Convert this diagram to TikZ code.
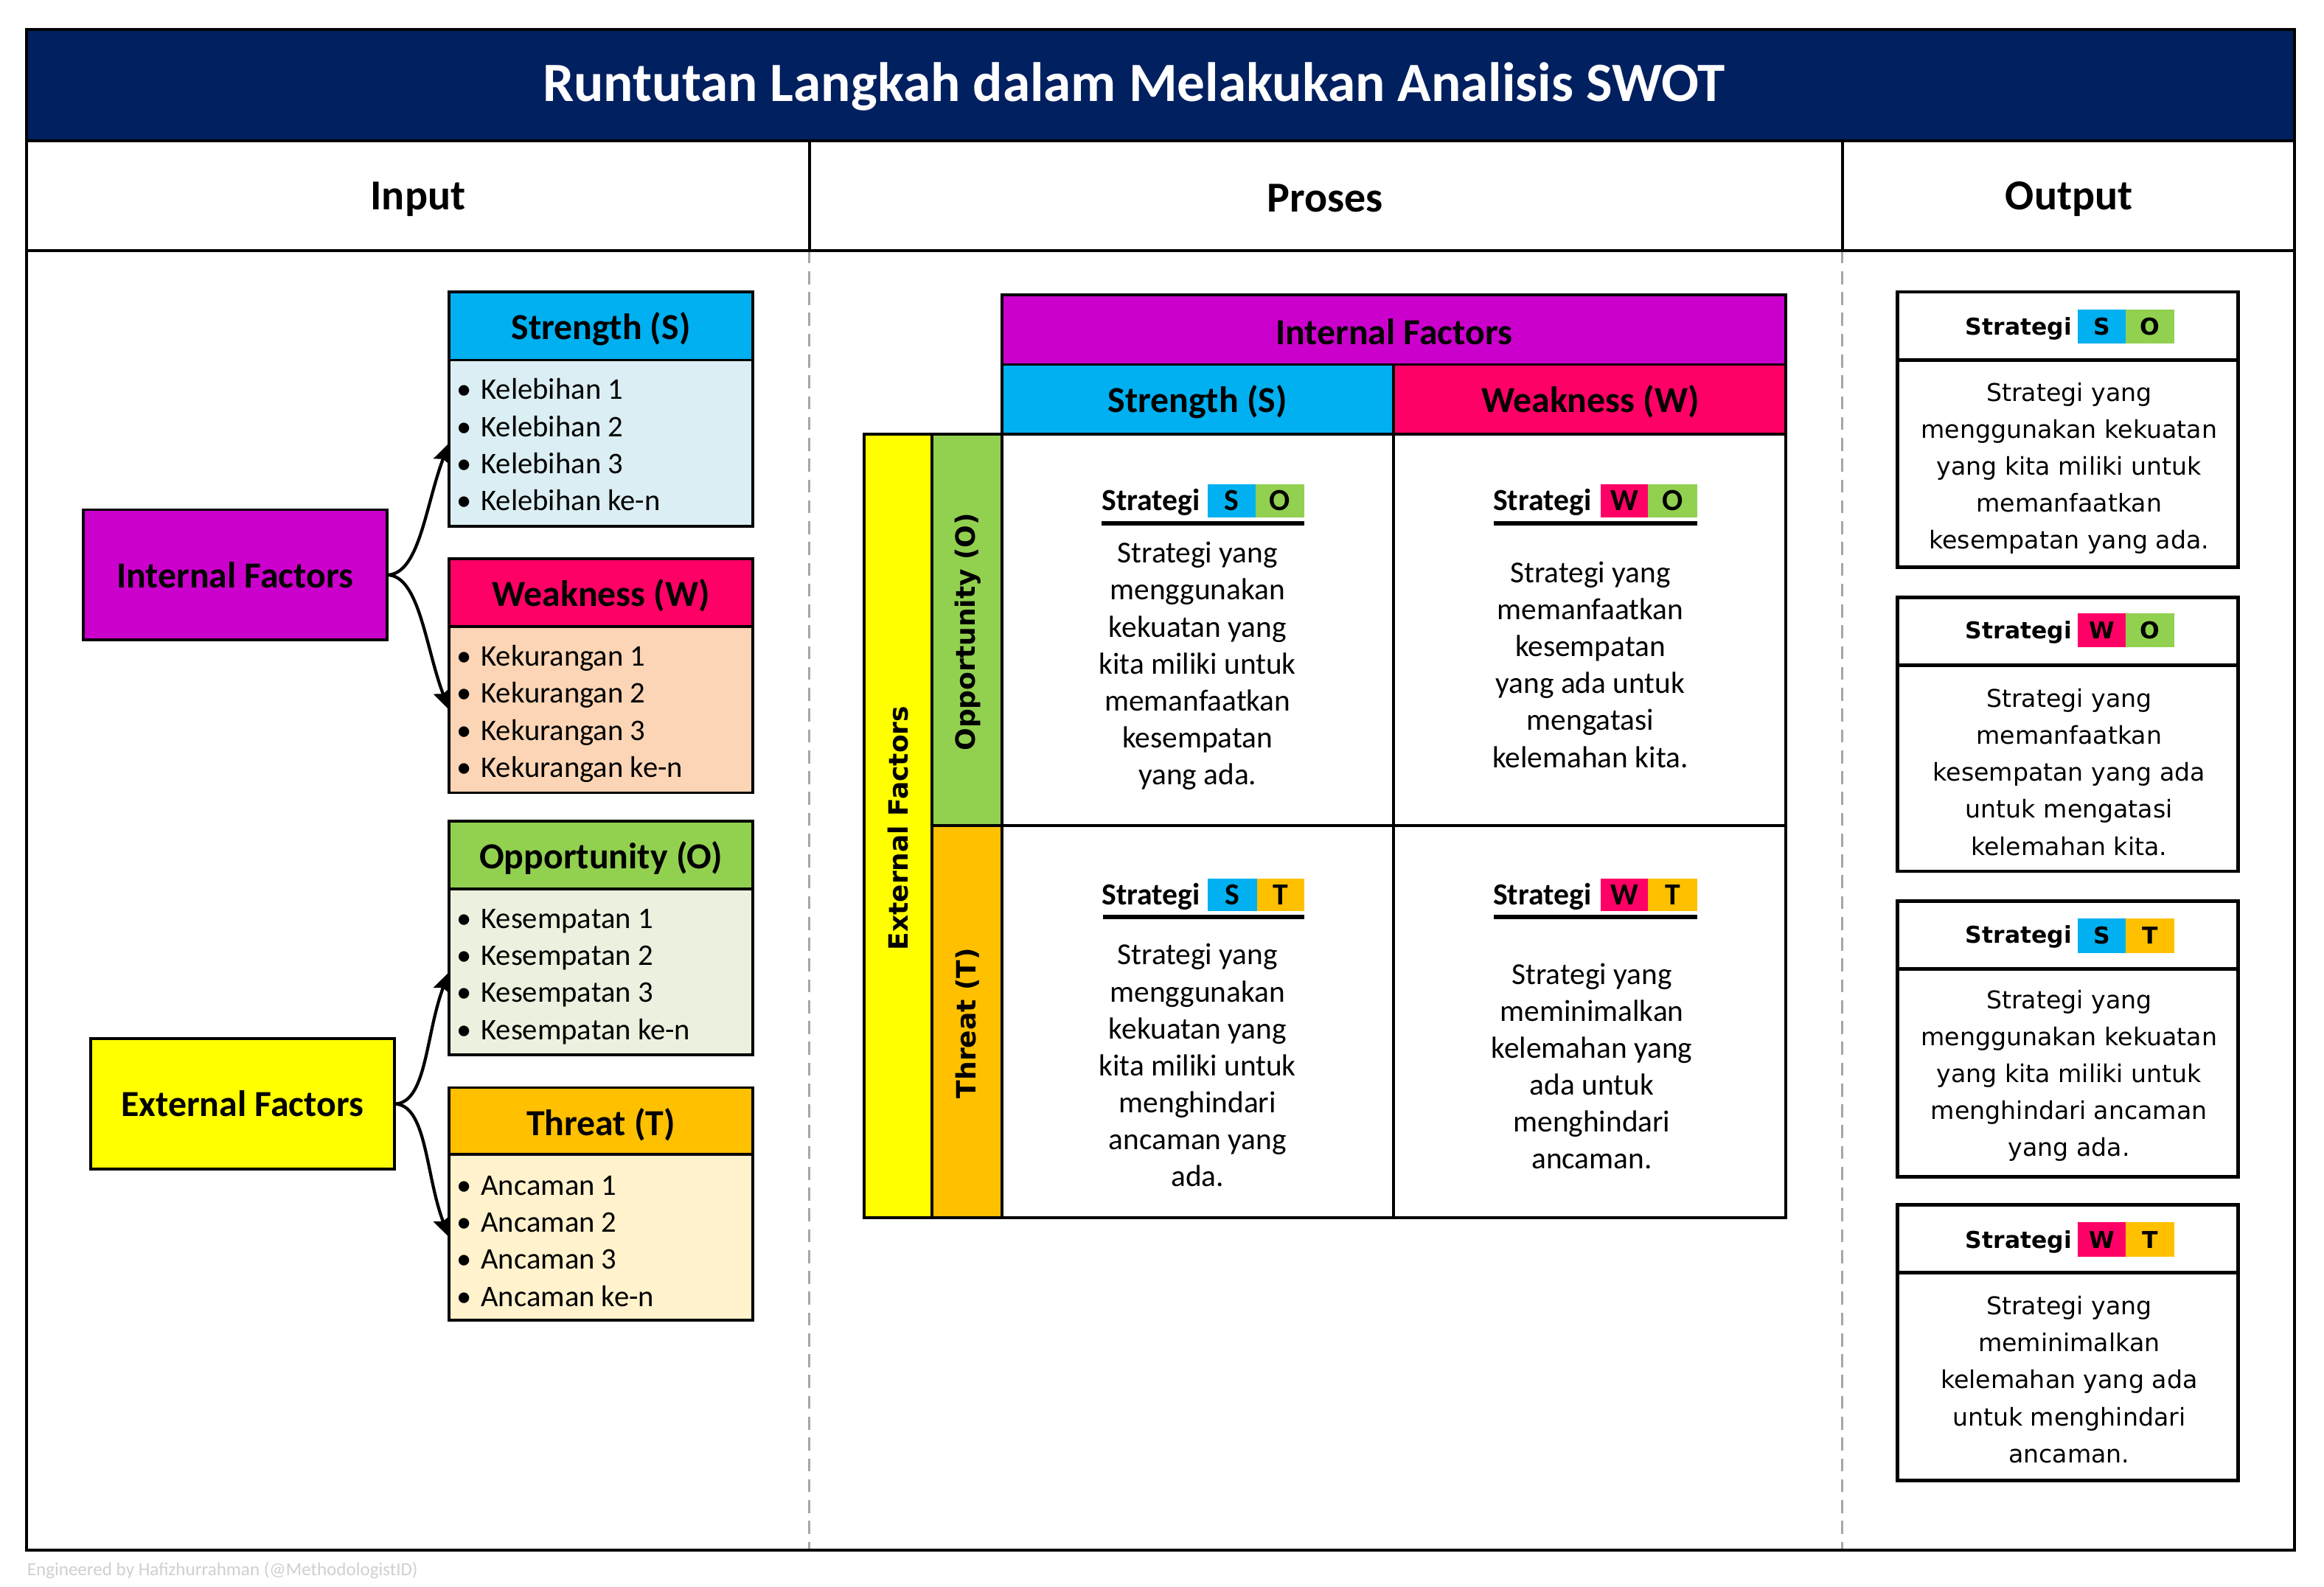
\documentclass[tikz,border=0pt]{standalone}
\usepackage{fontspec}
\setmainfont{Carlito}
\newfontfamily\verd{DejaVu Sans}
\usetikzlibrary{arrows.meta}
\definecolor{navy}{HTML}{002060}
\definecolor{magF}{HTML}{CC00CC}
\definecolor{cyanS}{HTML}{00B0F0}
\definecolor{pinkW}{HTML}{FF0066}
\definecolor{greenO}{HTML}{92D050}
\definecolor{orangeT}{HTML}{FFC000}
\definecolor{yelE}{HTML}{FFFF00}
\definecolor{lblue}{HTML}{DAEEF3}
\definecolor{peach}{HTML}{FBD5B5}
\definecolor{lgreen}{HTML}{EBF1DE}
\definecolor{lyel}{HTML}{FFF2CC}
\definecolor{dashgray}{HTML}{A6A6A6}
\definecolor{footgray}{HTML}{D0D0D0}
\newcommand\mybox[7]{\node[#6, minimum width={((#4)-(#2))*0.02cm}, minimum height={((#5)-(#3))*0.02cm}] (#1) at ({((#2)+(#4))/2},{((#3)+(#5))/2}) {#7};}
\begin{document}
\begin{tikzpicture}[x=0.02cm,y=-0.02cm,
  bx/.style={draw=black, line width=1.1pt, inner sep=0pt, outer sep=0pt},
  obx/.style={draw=black, line width=1.4pt, inner sep=0pt, outer sep=0pt},
  badge/.style={inner sep=0pt, outer sep=0pt},
  titlefont/.style={font=\fontsize{21.3}{24}\selectfont\bfseries},
  hfont/.style={font=\fontsize{16.4}{19}\selectfont\bfseries},
  tfont/.style={font=\fontsize{14.1}{17}\selectfont\bfseries},
  item/.style={anchor=base west, inner sep=0pt, font=\fontsize{11.5}{14.2}\selectfont},
  gtitle/.style={inner sep=0pt, font=\fontsize{11.8}{14.2}\selectfont\bfseries},
  gbody/.style={inner sep=0pt, align=center, font=\fontsize{11.7}{14.2}\selectfont},
  otitle/.style={inner sep=0pt, font=\verd\fontsize{8.9}{10}\selectfont\bfseries},
  obody/.style={inner sep=0pt, align=center, font=\verd\fontsize{9.4}{14.2}\selectfont},
  vlab/.style={rotate=90, inner sep=0pt, font=\verd\fontsize{10.2}{12}\selectfont\bfseries},
  arr/.style={line width=1.2pt, -{Stealth[length=0.27cm, width=0.24cm, inset=0.04cm]}},
  uline/.style={line width=1.7pt}
]
\useasboundingbox (0,0) rectangle (1568,1071);
\fill[white] (0,0) rectangle (1568,1071);

% dashed column separators
\draw[dashgray, line width=0.9pt, dash pattern=on 5pt off 3pt] (546,169) -- (546,1046);
\draw[dashgray, line width=0.9pt, dash pattern=on 5pt off 3pt] (1243,169) -- (1243,1046);

% frame, title, headers
\mybox{frame}{18}{169}{1548}{1046}{bx}{}
\mybox{title}{18}{20}{1548}{95}{bx, fill=navy}{}
\node[inner sep=0pt, text=white, titlefont] (titletext) at (765,58.5) {Runtutan Langkah dalam Melakukan Analisis SWOT};
\mybox{hin}{18}{95}{546}{169}{bx}{}
\mybox{hpr}{546}{95}{1243}{169}{bx}{}
\mybox{hout}{1243}{95}{1548}{169}{bx}{}
\node[inner sep=0pt, hfont] (hinT) at (282,134.5) {Input};
\node[inner sep=0pt, hfont] (hprT) at (894,134) {Proses};
\node[inner sep=0pt, hfont] (houtT) at (1396,134.5) {Output};

% ---------- Input column ----------
\mybox{IF}{56}{344}{261}{432}{bx, fill=magF, tfont}{Internal Factors}
\mybox{EF}{61}{701}{266}{789}{bx, fill=yelE, tfont}{External Factors}

\mybox{SH}{303}{197}{508}{243}{bx, fill=cyanS}{}
\mybox{SB}{303}{243}{508}{355}{bx, fill=lblue}{}
\mybox{WH}{303}{377}{508}{423}{bx, fill=pinkW}{}
\mybox{WB}{303}{423}{508}{535}{bx, fill=peach}{}
\mybox{OH}{303}{554}{508}{600}{bx, fill=greenO}{}
\mybox{OB}{303}{600}{508}{712}{bx, fill=lgreen}{}
\mybox{TH}{303}{734}{508}{779}{bx, fill=orangeT}{}
\mybox{TB}{303}{779}{508}{891}{bx, fill=lyel}{}
\node[inner sep=0pt, tfont] (SHt) at (405.5,222) {Strength (S)};
\node[inner sep=0pt, tfont] (WHt) at (405.5,402) {Weakness (W)};
\node[inner sep=0pt, tfont] (OHt) at (405.5,579) {Opportunity (O)};
\node[inner sep=0pt, tfont] (THt) at (405.5,759) {Threat (T)};

\foreach \t [count=\i] in {Kelebihan 1, Kelebihan 2, Kelebihan 3, Kelebihan ke-n}
  \node[item] (s\i) at (308,{263+25*(\i-1)+6.5}) {\textbullet\hspace{3.5pt}\t};
\foreach \t [count=\i] in {Kekurangan 1, Kekurangan 2, Kekurangan 3, Kekurangan ke-n}
  \node[item] (w\i) at (308,{443+25*(\i-1)+6.5}) {\textbullet\hspace{3.5pt}\t};
\foreach \t [count=\i] in {Kesempatan 1, Kesempatan 2, Kesempatan 3, Kesempatan ke-n}
  \node[item] (o\i) at (308,{620+25*(\i-1)+6.5}) {\textbullet\hspace{3.5pt}\t};
\foreach \t [count=\i] in {Ancaman 1, Ancaman 2, Ancaman 3, Ancaman ke-n}
  \node[item] (t\i) at (308,{800+25*(\i-1)+6.5}) {\textbullet\hspace{3.5pt}\t};

\draw[arr] (IF.east) .. controls +(22,0) and +(-16,42) .. (SB.west);
\draw[arr] (IF.east) .. controls +(22,0) and +(-16,-42) .. (WB.west);
\draw[arr] (EF.east) .. controls +(22,0) and +(-16,42) .. (OB.west);
\draw[arr] (EF.east) .. controls +(22,0) and +(-16,-42) .. (TB.west);

% ---------- Proses column ----------
\mybox{gIF}{676}{199}{1205}{246}{bx, fill=magF}{}
\mybox{gS}{676}{246}{940}{293}{bx, fill=cyanS}{}
\mybox{gW}{940}{246}{1205}{293}{bx, fill=pinkW}{}
\node[inner sep=0pt, tfont] (gIFt) at (940.5,224) {Internal Factors};
\node[inner sep=0pt, tfont] (gSt) at (808,271) {Strength (S)};
\node[inner sep=0pt, tfont] (gWt) at (1073,271) {Weakness (W)};
\mybox{gEF}{583}{293}{629}{822}{bx, fill=yelE}{}
\mybox{gO}{629}{293}{676}{557}{bx, fill=greenO}{}
\mybox{gT}{629}{557}{676}{822}{bx, fill=orangeT}{}
\node[vlab] (gEFl) at (606,559) {External Factors};
\node[vlab] (gOl) at (653,426.5) {Opportunity (O)};
\node[vlab] (gTl) at (653,690.5) {Threat (T)};
\mybox{cSO}{676}{293}{940}{557}{bx}{}
\mybox{cWO}{940}{293}{1205}{557}{bx}{}
\mybox{cST}{676}{557}{940}{822}{bx}{}
\mybox{cWT}{940}{557}{1205}{822}{bx}{}

% SO cell
\node[gtitle] (cSOt) at (776.5,339) {Strategi};
\mybox{cSOa}{815}{327}{847}{349}{badge, fill=cyanS, gtitle}{S}
\mybox{cSOb}{847}{327}{880}{349}{badge, fill=greenO, gtitle}{O}
\draw[uline] (743,353) -- (880,353);
\node[gbody] (cSOx) at (808,449.5) {Strategi yang\\menggunakan\\kekuatan yang\\kita miliki untuk\\memanfaatkan\\kesempatan\\yang ada.};
% WO cell
\node[gtitle] (cWOt) at (1040.5,339) {Strategi};
\mybox{cWOa}{1080}{327}{1112}{349}{badge, fill=pinkW, gtitle}{W}
\mybox{cWOb}{1112}{327}{1145}{349}{badge, fill=greenO, gtitle}{O}
\draw[uline] (1008,353) -- (1145,353);
\node[gbody] (cWOx) at (1073,448.5) {Strategi yang\\memanfaatkan\\kesempatan\\yang ada untuk\\mengatasi\\kelemahan kita.};
% ST cell
\node[gtitle] (cSTt) at (776.5,605) {Strategi};
\mybox{cSTa}{815}{593}{848}{615}{badge, fill=cyanS, gtitle}{S}
\mybox{cSTb}{848}{593}{880}{615}{badge, fill=orangeT, gtitle}{T}
\draw[uline] (744,619) -- (880,619);
\node[gbody] (cSTx) at (808,719) {Strategi yang\\menggunakan\\kekuatan yang\\kita miliki untuk\\menghindari\\ancaman yang\\ada.};
% WT cell
\node[gtitle] (cWTt) at (1040.5,605) {Strategi};
\mybox{cWTa}{1080}{593}{1112}{615}{badge, fill=pinkW, gtitle}{W}
\mybox{cWTb}{1112}{593}{1145}{615}{badge, fill=orangeT, gtitle}{T}
\draw[uline] (1008,619) -- (1145,619);
\node[gbody] (cWTx) at (1074,719.5) {Strategi yang\\meminimalkan\\kelemahan yang\\ada untuk\\menghindari\\ancaman.};

% ---------- Output column ----------
% SO
\mybox{oSOh}{1280}{197}{1510}{243}{obx}{}
\mybox{oSOb}{1280}{243}{1510}{383}{obx}{}
\node[otitle] (oSOt) at (1362,222) {Strategi};
\mybox{oSOa}{1402}{209}{1434}{232}{badge, fill=cyanS, otitle}{S}
\mybox{oSOc}{1434}{209}{1467}{232}{badge, fill=greenO, otitle}{O}
\node[obody] (oSOx) at (1396,316) {Strategi yang\\menggunakan kekuatan\\yang kita miliki untuk\\memanfaatkan\\kesempatan yang ada.};
% WO
\mybox{oWOh}{1280}{403}{1510}{449}{obx}{}
\mybox{oWOb}{1280}{449}{1510}{588}{obx}{}
\node[otitle] (oWOt) at (1362,427) {Strategi};
\mybox{oWOa}{1402}{414}{1434}{437}{badge, fill=pinkW, otitle}{W}
\mybox{oWOc}{1434}{414}{1467}{437}{badge, fill=greenO, otitle}{O}
\node[obody] (oWOx) at (1396,521) {Strategi yang\\memanfaatkan\\kesempatan yang ada\\untuk mengatasi\\kelemahan kita.};
% ST
\mybox{oSTh}{1280}{608}{1510}{654}{obx}{}
\mybox{oSTb}{1280}{654}{1510}{794}{obx}{}
\node[otitle] (oSTt) at (1362,632) {Strategi};
\mybox{oSTa}{1402}{620}{1434}{643}{badge, fill=cyanS, otitle}{S}
\mybox{oSTc}{1434}{620}{1467}{643}{badge, fill=orangeT, otitle}{T}
\node[obody] (oSTx) at (1396,726) {Strategi yang\\menggunakan kekuatan\\yang kita miliki untuk\\menghindari ancaman\\yang ada.};
% WT
\mybox{oWTh}{1280}{813}{1510}{859}{obx}{}
\mybox{oWTb}{1280}{859}{1510}{999}{obx}{}
\node[otitle] (oWTt) at (1362,838) {Strategi};
\mybox{oWTa}{1402}{825}{1434}{848}{badge, fill=pinkW, otitle}{W}
\mybox{oWTc}{1434}{825}{1467}{848}{badge, fill=orangeT, otitle}{T}
\node[obody] (oWTx) at (1396,931) {Strategi yang\\meminimalkan\\kelemahan yang ada\\untuk menghindari\\ancaman.};

% footer
\node[anchor=west, inner sep=0pt, text=footgray, font=\fontsize{7.1}{8}\selectfont] (foot) at (18,1060) {Engineered by Hafizhurrahman (@MethodologistID)};
\end{tikzpicture}
\end{document}
